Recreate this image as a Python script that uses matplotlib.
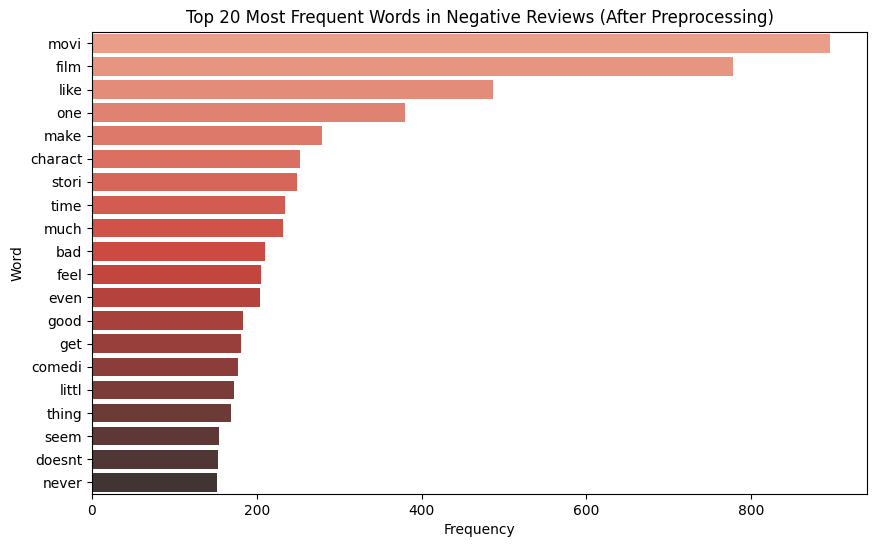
import matplotlib
matplotlib.use("Agg")
import matplotlib.pyplot as plt
import seaborn as sns
import pandas as pd

words = ["movi", "film", "like", "one", "make", "charact", "stori", "time", "much", "bad",
         "feel", "even", "good", "get", "comedi", "littl", "thing", "seem", "doesnt", "never"]
freqs = [896, 778, 487, 380, 279, 252, 249, 234, 232, 210,
         205, 204, 183, 181, 177, 172, 169, 154, 153, 152]

df = pd.DataFrame({"Word": words, "Frequency": freqs})

fig = plt.figure(figsize=(8.76, 5.47), dpi=100)
ax = fig.add_axes([0.105, 0.097, 0.885, 0.845])
sns.barplot(data=df, x="Frequency", y="Word", hue="Word", palette="Reds_d", legend=False, ax=ax)
ax.set_title("Top 20 Most Frequent Words in Negative Reviews (After Preprocessing)", fontsize=12)
ax.set_xlabel("Frequency")
ax.set_ylabel("Word")
fig.savefig("out.png", dpi=100)
